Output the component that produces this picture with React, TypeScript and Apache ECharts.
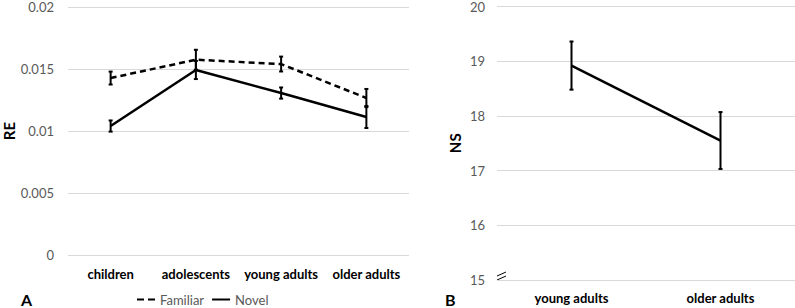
import React, { useEffect, useRef } from "react";
import * as echarts from "echarts";

const groupsA = ["children", "adolescents", "young adults", "older adults"];
const familiarMean = [0.01427, 0.01575, 0.0154, 0.01266];
const familiarErr = [0.00052, 0.0008, 0.0006, 0.00073];
const novelMean = [0.0104, 0.01492, 0.01306, 0.01113];
const novelErr = [0.00045, 0.00073, 0.00045, 0.00089];
const ticksA = { min: 0, max: 0.02, interval: 0.005 };

const groupsB = ["young adults", "older adults"];
const nsMean = [18.92, 17.55];
const nsErr = [0.44, 0.52];
const ticksB = { min: 15, max: 20, interval: 1 };

const FONT = "Lato, 'Liberation Sans', sans-serif";

function errData(mean: number[], err: number[]) {
  return mean.map((m, i) => [i, m - err[i], m + err[i]]);
}

function errRender(params: any, api: any) {
  const lo = api.coord([api.value(0), api.value(1)]);
  const hi = api.coord([api.value(0), api.value(2)]);
  const cap = 2;
  const style = { stroke: "#000", lineWidth: 2 };
  return {
    type: "group",
    children: [
      { type: "line", shape: { x1: lo[0], y1: lo[1], x2: hi[0], y2: hi[1] }, style },
      { type: "line", shape: { x1: lo[0] - cap, y1: lo[1], x2: lo[0] + cap, y2: lo[1] }, style },
      { type: "line", shape: { x1: hi[0] - cap, y1: hi[1], x2: hi[0] + cap, y2: hi[1] }, style },
    ],
  };
}

export default function App() {
  const ref = useRef<HTMLDivElement>(null);
  useEffect(() => {
    document.body.style.margin = "0";
    if (!ref.current) return;
    const chart = echarts.init(ref.current, null, { renderer: "svg" });
    const tickLabel = { color: "#595959", fontSize: 13, fontFamily: FONT };
    const catLabel = { color: "#000", fontSize: 13, fontWeight: "bold" as const, fontFamily: FONT, interval: 0 };
    chart.setOption({
      animation: false,
      backgroundColor: "#fff",
      grid: [
        { left: 66, top: 7, width: 343, height: 248 },
        { left: 497, top: 6, width: 298, height: 274 },
      ],
      xAxis: [
        {
          type: "category",
          gridIndex: 0,
          data: groupsA,
          boundaryGap: true,
          axisLine: { show: false },
          axisTick: { show: false },
          axisLabel: { ...catLabel, margin: 12 },
        },
        {
          type: "category",
          gridIndex: 1,
          data: groupsB,
          boundaryGap: true,
          axisLine: { show: false },
          axisTick: { show: false },
          axisLabel: { ...catLabel, margin: 11 },
        },
      ],
      yAxis: [
        {
          type: "value",
          gridIndex: 0,
          min: ticksA.min,
          max: ticksA.max,
          interval: ticksA.interval,
          name: "RE",
          nameLocation: "middle",
          nameGap: 52,
          nameTextStyle: { fontSize: 15, fontWeight: "bold", color: "#000", fontFamily: FONT },
          axisLine: { show: false },
          axisTick: { show: false },
          axisLabel: { ...tickLabel, margin: 14 },
          splitLine: { lineStyle: { color: "#d9d9d9", width: 1 } },
        },
        {
          type: "value",
          gridIndex: 1,
          min: ticksB.min,
          max: ticksB.max,
          interval: ticksB.interval,
          name: "NS",
          nameLocation: "middle",
          nameGap: 35,
          nameTextStyle: { fontSize: 15, fontWeight: "bold", color: "#000", fontFamily: FONT },
          axisLine: { show: false },
          axisTick: { show: false },
          axisLabel: { ...tickLabel, margin: 12 },
          splitLine: { lineStyle: { color: "#d9d9d9", width: 1 } },
        },
      ],
      legend: {
        left: 132,
        top: 288,
        itemWidth: 18,
        itemHeight: 3,
        itemGap: 8,
        textStyle: { color: "#595959", fontSize: 13, fontFamily: FONT },
        inactiveColor: "#595959",
        selectedMode: false,
        data: [
          { name: "Familiar", icon: "path://M0,0h7v2h-7z M11,0h7v2h-7z", itemStyle: { color: "#000" }, textStyle: { color: "#595959" } },
          { name: "Novel", icon: "path://M0,0h18v2h-18z", itemStyle: { color: "#000" }, textStyle: { color: "#595959" } },
        ],
      },
      series: [
        {
          name: "Familiar",
          type: "line",
          xAxisIndex: 0,
          yAxisIndex: 0,
          data: familiarMean,
          symbol: "none",
          lineStyle: { color: "#000", width: 2.5, type: [6, 4] },
          itemStyle: { color: "#000" },
        },
        {
          name: "Novel",
          type: "line",
          xAxisIndex: 0,
          yAxisIndex: 0,
          data: novelMean,
          symbol: "none",
          lineStyle: { color: "#000", width: 2.5 },
          itemStyle: { color: "#000" },
        },
        {
          type: "custom",
          xAxisIndex: 0,
          yAxisIndex: 0,
          data: errData(familiarMean, familiarErr),
          renderItem: errRender,
          z: 5,
        },
        {
          type: "custom",
          xAxisIndex: 0,
          yAxisIndex: 0,
          data: errData(novelMean, novelErr),
          renderItem: errRender,
          z: 5,
        },
        {
          name: "NS",
          type: "line",
          xAxisIndex: 1,
          yAxisIndex: 1,
          data: nsMean,
          symbol: "none",
          lineStyle: { color: "#000", width: 2.5 },
          itemStyle: { color: "#000" },
        },
        {
          type: "custom",
          xAxisIndex: 1,
          yAxisIndex: 1,
          data: errData(nsMean, nsErr),
          renderItem: errRender,
          z: 5,
        },
      ],
      graphic: [
        {
          type: "text",
          left: 21,
          top: 291,
          style: { text: "A", fontSize: 16, fontWeight: "bold", fill: "#000", fontFamily: FONT },
        },
        {
          type: "text",
          left: 445,
          top: 291,
          style: { text: "B", fontSize: 16, fontWeight: "bold", fill: "#000", fontFamily: FONT },
        },
        {
          type: "line",
          shape: { x1: 497, y1: 276, x2: 506, y2: 272 },
          style: { stroke: "#000", lineWidth: 1 },
        },
        {
          type: "line",
          shape: { x1: 497, y1: 280, x2: 506, y2: 276 },
          style: { stroke: "#000", lineWidth: 1 },
        },
      ],
    });
    return () => chart.dispose();
  }, []);
  return <div ref={ref} style={{ width: 795, height: 308 }} />;
}
